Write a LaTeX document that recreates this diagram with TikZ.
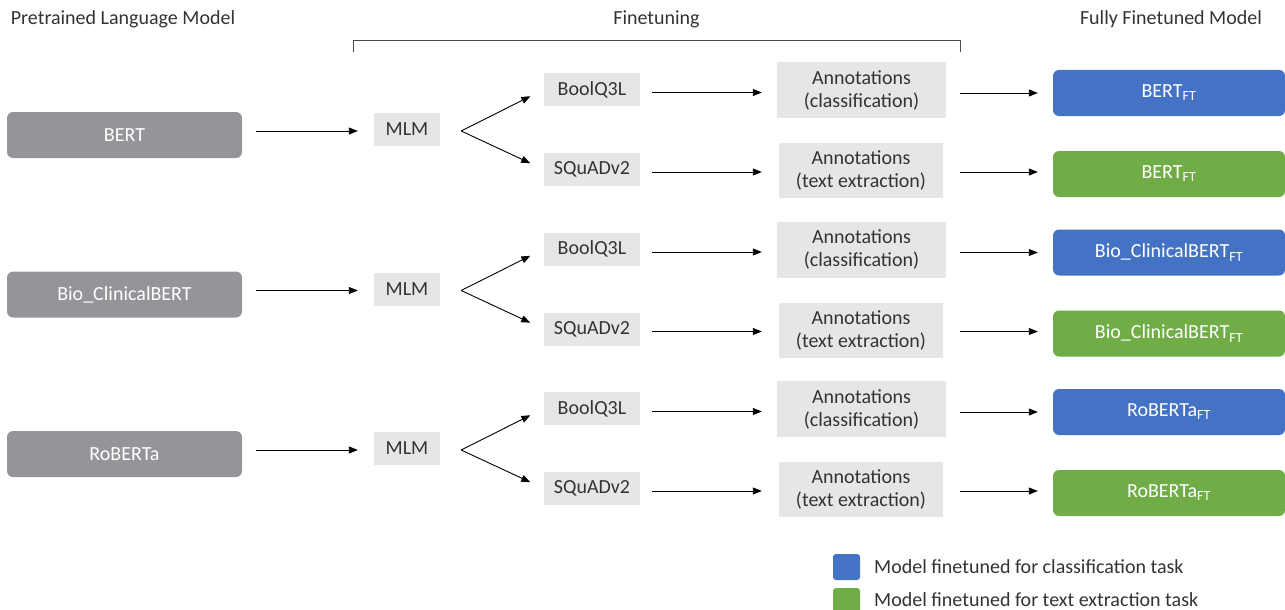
\documentclass[tikz,border=0pt]{standalone}
\usepackage{fontspec}
\setmainfont{Carlito}
\usetikzlibrary{arrows.meta,calc}
\definecolor{pgray}{HTML}{939598}
\definecolor{lgray}{HTML}{E7E6E6}
\definecolor{fblue}{HTML}{4472C4}
\definecolor{fgreen}{HTML}{70AD47}
\definecolor{txt}{HTML}{333333}
\begin{document}
\begin{tikzpicture}[x=1pt,y=-1pt,
  font=\fontsize{20}{23}\selectfont,
  every node/.style={inner sep=0pt, text=txt},
  prebox/.style={fill=pgray, rounded corners=6pt, minimum width=235pt, minimum height=46pt, text=white},
  lbox/.style={fill=lgray, minimum height=33pt},
  annbox/.style={fill=lgray, minimum height=56pt, align=center},
  ftbox/.style={rounded corners=6pt, minimum width=232pt, minimum height=46pt, text=white},
  arr/.style={-{Triangle[length=9pt,width=7pt]}, line width=0.9pt, black},
  legsq/.style={rounded corners=3pt, minimum width=27pt, minimum height=26pt}
]
\useasboundingbox (0,0) rectangle (1285,610);
% headers
\node (h1) at (123,19) {Pretrained Language Model};
\node (h2) at (656.5,19) {Finetuning};
\node (h3) at (1171,19) {Fully Finetuned Model};
\draw[line width=0.8pt, black!70] (353,52) -- (353,40) -- (960,40) -- (960,52);

\foreach \g/\nm/\dy in {1/{BERT}/0, 2/{Bio\_ClinicalBERT}/159.5, 3/{RoBERTa}/319}{
  \node[prebox] (p\g) at (124.5,135+\dy) {\nm};
  \node[lbox, minimum width=66pt] (m\g) at (407,129.5+\dy) {MLM};
  \node[lbox, minimum width=96pt] (b\g) at (592,89.5+\dy) {BoolQ3L};
  \node[lbox, minimum width=96pt] (s\g) at (592,169.5+\dy) {SQuADv2};
  \node[annbox, minimum width=169pt] (ac\g) at (861.5,90+\dy) {Annotations\\(classification)};
  \node[annbox, minimum width=164pt, minimum height=55pt] (at\g) at (861,170.5+\dy) {Annotations\\(text extraction)};
  \node[ftbox, fill=fblue] (fb\g) at (1169,93+\dy) {\nm\textsubscript{FT}};
  \node[ftbox, fill=fgreen] (fg\g) at (1169,174+\dy) {\nm\textsubscript{FT}};
  \coordinate (k\g) at ($(m\g.east)+(21,1.5)$);
  \draw[arr, shorten <=14pt, shorten >=16pt] ([yshift=-1.5pt]p\g.east |- m\g.west) -- ([yshift=-1.5pt]m\g.west);
  \draw[arr, shorten >=15pt] (k\g) -- (b\g.west);
  \draw[arr, shorten >=15pt] (k\g) -- (s\g.west);
  \draw[arr, shorten <=12pt, shorten >=15pt] ([yshift=-3pt]b\g.east) -- ([yshift=-3pt]b\g.east -| ac\g.west);
  \draw[arr, shorten <=12pt, shorten >=17pt] ([yshift=-2.5pt]s\g.east) -- ([yshift=-2.5pt]s\g.east -| at\g.west);
  \draw[arr, shorten <=14pt, shorten >=15pt] (ac\g.east |- fb\g.west) -- (fb\g.west);
  \draw[arr, shorten <=17pt, shorten >=15pt] ([yshift=2pt]at\g.east |- fg\g.west) -- ([yshift=2pt]fg\g.west);
}
% legend
\node[legsq, fill=fblue] (lb) at (846.5,567) {};
\node[anchor=west] (lbt) at (874,567) {Model finetuned for classification task};
\node[legsq, fill=fgreen] (lg) at (846.5,601) {};
\node[anchor=west] (lgt) at (874,600) {Model finetuned for text extraction task};
\end{tikzpicture}
\end{document}
